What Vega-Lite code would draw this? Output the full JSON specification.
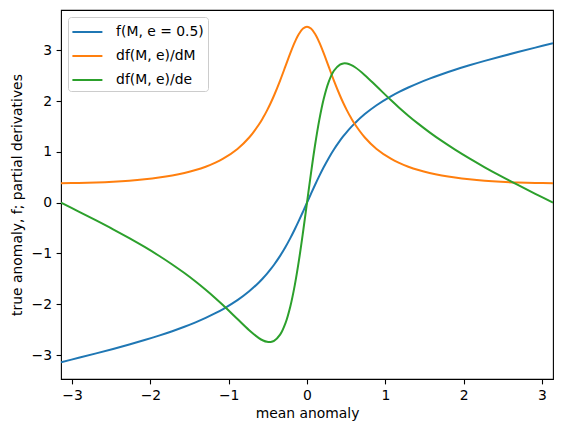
{
  "$schema": "https://vega.github.io/schema/vega-lite/v6.json",
  "width": 492,
  "height": 369,
  "autosize": {"type": "none"},
  "padding": {"left": 61, "top": 10, "right": 13, "bottom": 54},
  "background": "white",
  "config": {
    "view": {"stroke": "black", "strokeWidth": 1.1},
    "font": "DejaVu Sans",
    "axis": {
      "grid": false,
      "domain": false,
      "labelFont": "DejaVu Sans",
      "labelFontSize": 13.9,
      "labelColor": "black",
      "titleFont": "DejaVu Sans",
      "titleFontSize": 13.9,
      "titleFontWeight": "normal",
      "titleColor": "black",
      "tickColor": "black",
      "tickSize": 4.9,
      "tickWidth": 1.1,
      "labelPadding": 4.5
    },
    "legend": {
      "orient": "none",
      "legendX": 7,
      "legendY": 7,
      "symbolType": "M-1.5,0H1.5",
      "symbolSize": 400,
      "symbolOffset": 4.4,
      "symbolStrokeWidth": 2,
      "labelFont": "DejaVu Sans",
      "labelFontSize": 13.9,
      "labelColor": "black",
      "labelOffset": 17.7,
      "labelLimit": 300,
      "rowPadding": 6,
      "padding": 4,
      "strokeColor": "#cccccc",
      "fillColor": "rgba(255,255,255,0.8)",
      "cornerRadius": 3
    }
  },
  "data": {
    "values": [
      {"M": -3.1416, "f": -3.1416, "dfdM": 0.3849, "dfde": 0},
      {"M": -2.9154, "f": -3.0543, "dfdM": 0.3878, "dfde": -0.1745},
      {"M": -2.6927, "f": -2.9671, "dfdM": 0.3967, "dfde": -0.3491},
      {"M": -2.4764, "f": -2.8798, "dfdM": 0.4116, "dfde": -0.5235},
      {"M": -2.2694, "f": -2.7925, "dfdM": 0.4327, "dfde": -0.6978},
      {"M": -2.0737, "f": -2.7053, "dfdM": 0.4604, "dfde": -0.8716},
      {"M": -1.8907, "f": -2.618, "dfdM": 0.4949, "dfde": -1.0447},
      {"M": -1.7212, "f": -2.5307, "dfdM": 0.5367, "dfde": -1.2163},
      {"M": -1.5655, "f": -2.4435, "dfdM": 0.5861, "dfde": -1.3858},
      {"M": -1.4233, "f": -2.3562, "dfdM": 0.6434, "dfde": -1.5523},
      {"M": -1.294, "f": -2.2689, "dfdM": 0.709, "dfde": -1.7145},
      {"M": -1.1768, "f": -2.1817, "dfdM": 0.7832, "dfde": -1.8711},
      {"M": -1.0708, "f": -2.0944, "dfdM": 0.866, "dfde": -2.0207},
      {"M": -0.8882, "f": -1.9199, "dfdM": 1.0581, "dfde": -2.2916},
      {"M": -0.7384, "f": -1.7453, "dfdM": 1.2839, "dfde": -2.5121},
      {"M": -0.6142, "f": -1.5708, "dfdM": 1.5396, "dfde": -2.6667},
      {"M": -0.5599, "f": -1.4835, "dfdM": 1.6767, "dfde": -2.7144},
      {"M": -0.5099, "f": -1.3963, "dfdM": 1.8186, "dfde": -2.7402},
      {"M": -0.4637, "f": -1.309, "dfdM": 1.9639, "dfde": -2.7425},
      {"M": -0.4209, "f": -1.2217, "dfdM": 2.1112, "dfde": -2.7201},
      {"M": -0.3435, "f": -1.0472, "dfdM": 2.4056, "dfde": -2.5981},
      {"M": -0.2749, "f": -0.8727, "dfdM": 2.6883, "dfde": -2.3711},
      {"M": -0.213, "f": -0.6981, "dfdM": 2.9449, "dfde": -2.0424},
      {"M": -0.1559, "f": -0.5236, "dfdM": 3.1616, "dfde": -1.622},
      {"M": -0.1021, "f": -0.3491, "dfdM": 3.3262, "dfde": -1.1263},
      {"M": -0.0506, "f": -0.1745, "dfdM": 3.4291, "dfde": -0.5771},
      {"M": 0, "f": 0, "dfdM": 3.4641, "dfde": 0},
      {"M": 0.0506, "f": 0.1745, "dfdM": 3.4291, "dfde": 0.5771},
      {"M": 0.1021, "f": 0.3491, "dfdM": 3.3262, "dfde": 1.1263},
      {"M": 0.1559, "f": 0.5236, "dfdM": 3.1616, "dfde": 1.622},
      {"M": 0.213, "f": 0.6981, "dfdM": 2.9449, "dfde": 2.0424},
      {"M": 0.2749, "f": 0.8727, "dfdM": 2.6883, "dfde": 2.3711},
      {"M": 0.3435, "f": 1.0472, "dfdM": 2.4056, "dfde": 2.5981},
      {"M": 0.4209, "f": 1.2217, "dfdM": 2.1112, "dfde": 2.7201},
      {"M": 0.4637, "f": 1.309, "dfdM": 1.9639, "dfde": 2.7425},
      {"M": 0.5099, "f": 1.3963, "dfdM": 1.8186, "dfde": 2.7402},
      {"M": 0.5599, "f": 1.4835, "dfdM": 1.6767, "dfde": 2.7144},
      {"M": 0.6142, "f": 1.5708, "dfdM": 1.5396, "dfde": 2.6667},
      {"M": 0.7384, "f": 1.7453, "dfdM": 1.2839, "dfde": 2.5121},
      {"M": 0.8882, "f": 1.9199, "dfdM": 1.0581, "dfde": 2.2916},
      {"M": 1.0708, "f": 2.0944, "dfdM": 0.866, "dfde": 2.0207},
      {"M": 1.1768, "f": 2.1817, "dfdM": 0.7832, "dfde": 1.8711},
      {"M": 1.294, "f": 2.2689, "dfdM": 0.709, "dfde": 1.7145},
      {"M": 1.4233, "f": 2.3562, "dfdM": 0.6434, "dfde": 1.5523},
      {"M": 1.5655, "f": 2.4435, "dfdM": 0.5861, "dfde": 1.3858},
      {"M": 1.7212, "f": 2.5307, "dfdM": 0.5367, "dfde": 1.2163},
      {"M": 1.8907, "f": 2.618, "dfdM": 0.4949, "dfde": 1.0447},
      {"M": 2.0737, "f": 2.7053, "dfdM": 0.4604, "dfde": 0.8716},
      {"M": 2.2694, "f": 2.7925, "dfdM": 0.4327, "dfde": 0.6978},
      {"M": 2.4764, "f": 2.8798, "dfdM": 0.4116, "dfde": 0.5235},
      {"M": 2.6927, "f": 2.9671, "dfdM": 0.3967, "dfde": 0.3491},
      {"M": 2.9154, "f": 3.0543, "dfdM": 0.3878, "dfde": 0.1745},
      {"M": 3.1416, "f": 3.1416, "dfdM": 0.3849, "dfde": 0}
    ]
  },
  "transform": [
    {"fold": ["f", "dfdM", "dfde"], "as": ["series", "value"]}
  ],
  "mark": {"type": "line", "strokeWidth": 2, "interpolate": "catmull-rom", "clip": true},
  "encoding": {
    "x": {
      "field": "M",
      "type": "quantitative",
      "scale": {"domain": [-3.14159, 3.14159], "nice": false, "zero": false},
      "axis": {
        "title": "mean anomaly",
        "values": [-3, -2, -1, 0, 1, 2, 3],
        "labelExpr": "replace(datum.label, '-', '−')",
        "titlePadding": 4
      }
    },
    "y": {
      "field": "value",
      "type": "quantitative",
      "scale": {"domain": [-3.472, 3.795], "nice": false, "zero": false},
      "axis": {
        "title": "true anomaly, f; partial derivatives",
        "values": [-3, -2, -1, 0, 1, 2, 3],
        "labelExpr": "replace(datum.label, '-', '−')",
        "titlePadding": 7
      }
    },
    "color": {
      "field": "series",
      "type": "nominal",
      "scale": {"domain": ["f", "dfdM", "dfde"], "range": ["#1f77b4", "#ff7f0e", "#2ca02c"]},
      "legend": {
        "title": null,
        "labelExpr": "datum.label == 'f' ? 'f(M, e = 0.5)' : datum.label == 'dfdM' ? 'df(M, e)/dM' : 'df(M, e)/de'"
      }
    },
    "order": {"field": "M", "type": "quantitative"}
  }
}
